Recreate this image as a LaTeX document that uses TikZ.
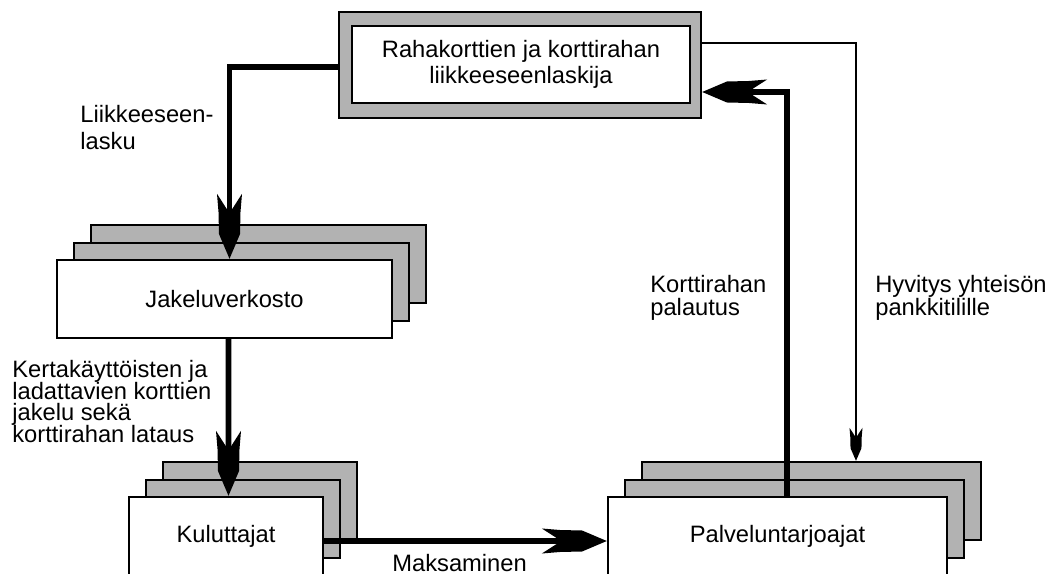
\documentclass[tikz,border=0pt]{standalone}
\usepackage{fontspec}
\setmainfont{Liberation Sans}
\usetikzlibrary{arrows.meta}
\setlength{\lineskiplimit}{-100pt}

% swallow-tailed arrow head
\pgfdeclarearrow{
  name = Fork,
  parameters = {\the\pgfarrowlength,\the\pgfarrowwidth},
  setup code = {
    \pgfarrowssettipend{0pt}
    \pgfarrowssetbackend{-\pgfarrowlength}
    \pgfarrowssetlineend{-.6\pgfarrowlength}
    \pgfarrowssavethe\pgfarrowlength
    \pgfarrowssavethe\pgfarrowwidth
  },
  drawing code = {
    \pgfpathmoveto{\pgfpointorigin}
    \pgfpathlineto{\pgfqpoint{-.38\pgfarrowlength}{.42\pgfarrowwidth}}
    \pgfpathlineto{\pgfqpoint{-.72\pgfarrowlength}{.44\pgfarrowwidth}}
    \pgfpathlineto{\pgfqpoint{-\pgfarrowlength}{.5\pgfarrowwidth}}
    \pgfpathlineto{\pgfqpoint{-.7\pgfarrowlength}{0pt}}
    \pgfpathlineto{\pgfqpoint{-\pgfarrowlength}{-.5\pgfarrowwidth}}
    \pgfpathlineto{\pgfqpoint{-.72\pgfarrowlength}{-.44\pgfarrowwidth}}
    \pgfpathlineto{\pgfqpoint{-.38\pgfarrowlength}{-.42\pgfarrowwidth}}
    \pgfpathclose
    \pgfusepathqfill
  },
  defaults = {length = 1.3cm, width = .5cm}
}

\tikzstyle{sheet}=[draw,line width=1.4pt,fill=white,minimum height=1.56cm,inner sep=0pt,font=\fontsize{13.5}{16}\selectfont]
\tikzstyle{grey sheet}=[sheet,fill=black!30]
\tikzstyle{framebox}=[grey sheet,minimum width=7.24cm,minimum height=2.12cm]
\tikzstyle{flow}=[draw,line width=3.2pt,-{Fork}]
\tikzstyle{thin flow}=[draw,line width=1pt,-{Fork[length=0.66cm,width=0.26cm]}]
\tikzstyle{flowtext}=[anchor=north west,inner sep=0pt,align=left,font=\fontsize{13.5}{13.1}\selectfont]

\begin{document}
\begin{tikzpicture}[x=0.02cm,y=-0.02cm]
    \useasboundingbox (0,0) rectangle (1048,574);
    \clip (0,0) rectangle (1048,574);

    % The issuer on top, in a grey frame
    \node[framebox] (issuerframe) at (520,65) {};
    \node[sheet,minimum width=6.76cm,minimum height=1.54cm,align=center,
          font=\fontsize{13.5}{14.4}\selectfont] (issuer) at (521,64.5)
          {Rahakorttien ja korttirahan\\liikkeeseenlaskija};

    % Back sheets of the stacks
    \foreach \pos/\name/\size in {{(258.5,264)/jakelu3/6.7cm}, {(241.5,282)/jakelu2/6.7cm},
        {(260,501)/kulu3/3.88cm}, {(243,519)/kulu2/3.88cm},
        {(811.5,501)/palvelu3/6.78cm}, {(794.5,519)/palvelu2/6.78cm}}
        \node[grey sheet,minimum width=\size] (\name) at \pos {};

    % Front sheets
    \foreach \pos/\name/\size/\txt in {{(224.5,299)/jakelu/6.7cm/Jakeluverkosto},
        {(226,536)/kulu/3.88cm/Kuluttajat}, {(777.5,536)/palvelu/6.78cm/Palveluntarjoajat}}
        \node[sheet,minimum width=\size] (\name) at \pos {\txt};

    % Connect the boxes
    \path[flow] ([yshift=-0.04cm]issuerframe.west) -| ([xshift=0.1cm]jakelu.north);
    \path[flow] ([xshift=0.08cm]jakelu.south) -- ([xshift=0.05cm]kulu.north);
    \path[flow] ([yshift=-0.1cm]kulu.east) -- ([yshift=-0.1cm]palvelu.west);
    \path[flow] ([xshift=0.19cm]palvelu.north) |- ([yshift=-0.54cm]issuerframe.east);
    \path[thin flow] ([yshift=0.44cm]issuerframe.east) -| ([xshift=0.89cm]palvelu3.north);

    % Texts on the arrows
    \node[flowtext,font=\fontsize{13.5}{15.1}\selectfont] (issuelabel) at (80,105) {Liikkeeseen-\\lasku};
    \node[flowtext,font=\fontsize{13.5}{12.3}\selectfont] (jakelulabel) at (12,360)
        {Kertakäyttöisten ja\\ladattavien korttien\\jakelu sekä\\korttirahan lataus};
    \node[flowtext] (palautuslabel) at (650,275) {Korttirahan\\palautus};
    \node[flowtext] (hyvityslabel) at (875,275) {Hyvitys yhteisön\\pankkitilille};
    \node[flowtext] (maksulabel) at (392,554) {Maksaminen};
\end{tikzpicture}
\end{document}
